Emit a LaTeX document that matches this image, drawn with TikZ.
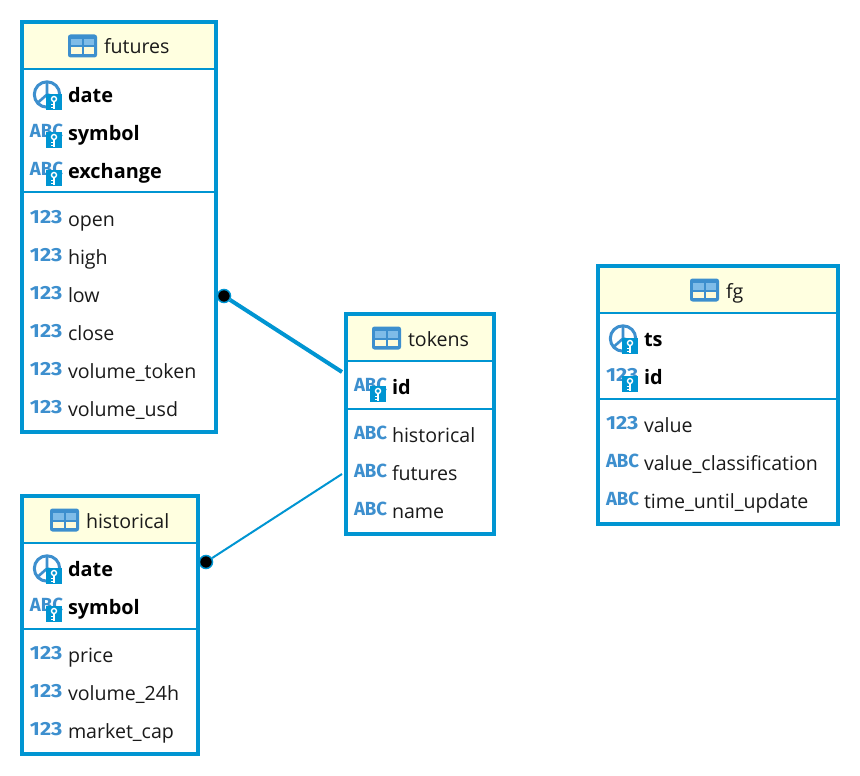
\documentclass[tikz,border=0pt]{standalone}
\usepackage{fontspec}
\usepackage{graphicx}
\setmainfont{Open Sans}
\newfontfamily\iconfont{Fira Sans}
\definecolor{frameblue}{HTML}{0095D2}
\definecolor{iconblue}{HTML}{3D8FCE}
\definecolor{iconlight}{HTML}{7FBCE8}
\definecolor{headfill}{HTML}{FFFFE0}
\definecolor{headcell}{HTML}{FFFBD8}
\definecolor{inkdark}{HTML}{1A1A1A}
\tikzset{
  tableframe/.style={draw=frameblue,line width=4pt,outer sep=0pt},
  headband/.style={fill=headfill,draw=none},
  divider/.style={draw=frameblue,line width=2pt},
  titletext/.style={anchor=base west,inner sep=0pt,outer sep=0pt,text=inkdark,font=\fontsize{19.6}{22}\selectfont},
  plaintext/.style={anchor=base west,inner sep=0pt,outer sep=0pt,text=inkdark,font=\fontsize{19.6}{22}\selectfont},
  keytext/.style={anchor=base west,inner sep=0pt,outer sep=0pt,text=black,font=\fontsize{19.9}{22}\selectfont\bfseries},
  icontext/.style={anchor=base west,inner sep=0pt,outer sep=0pt,text=iconblue,font=\iconfont\fontsize{19}{20}\selectfont\bfseries},
  enddot/.style={circle,draw=frameblue,fill=black,line width=1.5pt,minimum size=13pt,inner sep=0pt},
  linkthick/.style={draw=frameblue,line width=4pt},
  linkthin/.style={draw=frameblue,line width=2pt},
}
% name, left, top, right, bottom, header divider, title x, title text
\newcommand{\dbtable}[8]{%
  \fill[white] (#2,#3) rectangle (#4,#5);
  \fill[headband] (#2+3,#3+3) rectangle (#4-3,#6);
  \node[tableframe,minimum width=#4-#2-4,minimum height=#5-#3-4,inner sep=0pt,anchor=north west] (#1) at (#2+2,#3+2) {};
  \draw[divider] (#2+3,#6) -- (#4-3,#6);
  \pgfmathsetmacro{\ty}{#6-22.5+7.5}
  \node[titletext] (#1-title) at (#7,\ty) {#8};
  \begin{scope}[shift={(#7-36,#6-34.5)}]
    \fill[iconblue,rounded corners=2.5pt] (0,0) rectangle (29,23);
    \fill[iconlight] (3,4.5) rectangle (13.5,11);
    \fill[iconlight] (15.5,4.5) rectangle (26,11);
    \fill[headcell] (3,13) rectangle (13.5,19.5);
    \fill[headcell] (15.5,13) rectangle (26,19.5);
  \end{scope}
}
\newcommand{\dbdivider}[3]{\draw[divider] (#1+3,#3) -- (#2-3,#3);}
\newcommand{\keybadge}[2]{%
  \begin{scope}[shift={(#1+26,#2-1)}]
    \fill[frameblue] (0,0) rectangle (16,16);
    \draw[white,line width=1.4pt] (8,5) circle (2.5);
    \draw[white,line width=1.6pt] (8,7.6) -- (8,15);
    \draw[white,line width=1.2pt] (8,10.8) -- (5,10.8) (8,13.4) -- (5,13.4);
  \end{scope}}
\newcommand{\clockicon}[2]{%
  \begin{scope}[shift={(#1+27,#2-0.5)}]
    \draw[iconblue,line width=3pt] (0,0) circle (12.7);
    \draw[iconblue,line width=2.6pt] (0,-12) -- (0,0) -- (-9.5,8.5);
    \draw[iconblue,line width=2.6pt] (0,0) -- (12,3);
  \end{scope}}
\newcommand{\abcicon}[3]{\node[icontext] (#3-icon) at (#1+10,#2+4) {\scalebox{0.98}[1]{ABC}};}
\newcommand{\numicon}[3]{\node[icontext] (#3-icon) at (#1+10,#2+4) {\scalebox{1.14}[1]{123}};}
\newcommand{\keyrow}[4]{\node[keytext] (#3) at (#1+48,#2+7.5) {#4};}
\newcommand{\datakey}[4]{\clockicon{#1}{#2}\keybadge{#1}{#2}\keyrow{#1}{#2}{#3}{#4}}
\newcommand{\abckey}[4]{\abcicon{#1}{#2}{#3}\keybadge{#1}{#2}\keyrow{#1}{#2}{#3}{#4}}
\newcommand{\numkey}[4]{\numicon{#1}{#2}{#3}\keybadge{#1}{#2}\keyrow{#1}{#2}{#3}{#4}}
\newcommand{\numrow}[4]{\numicon{#1}{#2}{#3}\node[plaintext] (#3) at (#1+48,#2+7.5) {#4};}
\newcommand{\abcrow}[4]{\abcicon{#1}{#2}{#3}\node[plaintext] (#3) at (#1+48,#2+7.5) {#4};}
\begin{document}
\begin{tikzpicture}[x=1pt,y=-1pt]
\useasboundingbox (0,0) rectangle (860,776);
\fill[white] (0,0) rectangle (860,776);

% futures
\dbtable{futures}{20}{20}{218}{434}{69}{104}{futures}
\dbdivider{20}{218}{192}
\datakey{20}{95}{fu-date}{date}
\abckey{20}{133}{fu-symbol}{symbol}
\abckey{20}{171}{fu-exchange}{exchange}
\numrow{20}{219}{fu-open}{open}
\numrow{20}{257}{fu-high}{high}
\numrow{20}{295}{fu-low}{low}
\numrow{20}{333}{fu-close}{close}
\numrow{20}{371}{fu-vtoken}{volume\_token}
\numrow{20}{409}{fu-vusd}{volume\_usd}

% tokens
\dbtable{tokens}{344}{312}{496}{536}{361}{408}{tokens}
\dbdivider{344}{496}{409}
\abckey{344}{387}{to-id}{id}
\abcrow{344}{435}{to-historical}{historical}
\abcrow{344}{473}{to-futures}{futures}
\abcrow{344}{511}{to-name}{name}

% fg
\dbtable{fg}{596}{264}{840}{526}{313}{726}{fg}
\dbdivider{596}{840}{399}
\datakey{596}{339}{fg-ts}{ts}
\numkey{596}{377}{fg-id}{id}
\numrow{596}{425}{fg-value}{value}
\abcrow{596}{463}{fg-class}{value\_classification}
\abcrow{596}{501}{fg-time}{time\_until\_update}

% historical
\dbtable{historical}{20}{494}{200}{756}{543}{86}{historical}
\dbdivider{20}{200}{629}
\datakey{20}{569}{hi-date}{date}
\abckey{20}{607}{hi-symbol}{symbol}
\numrow{20}{655}{hi-price}{price}
\numrow{20}{693}{hi-vol}{volume\_24h}
\numrow{20}{731}{hi-cap}{market\_cap}

% connectors
\node[enddot] (dotfutures) at (224,296) {};
\node[enddot] (dothistorical) at (206,562) {};
\coordinate (tokensid) at (342,372);
\coordinate (tokensfutures) at (342,474);
\draw[linkthick] (dotfutures) -- (tokensid);
\draw[linkthin] (dothistorical) -- (tokensfutures);
\end{tikzpicture}
\end{document}
